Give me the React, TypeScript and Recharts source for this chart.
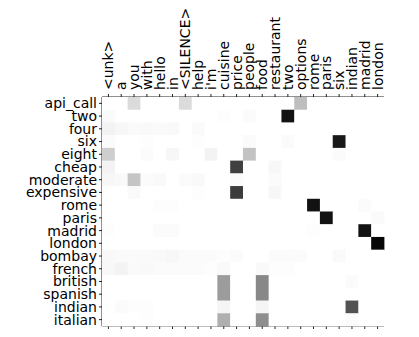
import { ScatterChart, Scatter, XAxis, YAxis } from "recharts";

const rows = [
  "api_call", "two", "four", "six", "eight", "cheap", "moderate", "expensive", "rome",
  "paris", "madrid", "london", "bombay", "french", "british", "spanish", "indian", "italian",
];

const cols = [
  "<unk>", "a", "you", "with", "hello", "in", "<SILENCE>", "help", "i'm", "cuisine", "price",
  "people", "food", "restaurant", "two", "options", "rome", "paris", "six", "indian", "madrid", "london",
];

// one row per memory entry, one value per column word
const weights: number[][] = [
  [0, 0, 0.24, 0, 0, 0, 0.24, 0, 0, 0, 0, 0, 0, 0, 0, 0.37, 0, 0, 0, 0, 0, 0],
  [0.04, 0, 0, 0, 0, 0, 0, 0, 0, 0.02, 0, 0.03, 0, 0, 0.94, 0, 0, 0, 0, 0, 0, 0],
  [0.1, 0.07, 0.04, 0.05, 0.04, 0.05, 0, 0.04, 0, 0, 0, 0, 0, 0, 0, 0, 0, 0, 0, 0, 0, 0],
  [0.03, 0, 0, 0.02, 0, 0, 0, 0.02, 0, 0, 0, 0.03, 0, 0, 0.03, 0, 0, 0, 0.92, 0, 0, 0],
  [0.3, 0, 0, 0.03, 0, 0.07, 0, 0, 0.1, 0, 0, 0.35, 0, 0, 0, 0, 0, 0, 0.03, 0, 0, 0],
  [0.1, 0, 0, 0, 0, 0, 0, 0, 0, 0, 0.8, 0, 0, 0.07, 0, 0, 0, 0, 0, 0, 0, 0],
  [0.07, 0.05, 0.34, 0.03, 0.05, 0, 0.03, 0.05, 0, 0, 0.03, 0, 0, 0.03, 0, 0, 0, 0, 0, 0, 0, 0],
  [0, 0, 0.04, 0, 0, 0, 0, 0.02, 0, 0, 0.81, 0, 0, 0.07, 0, 0, 0, 0, 0, 0, 0, 0],
  [0, 0, 0, 0, 0.02, 0.02, 0, 0, 0, 0, 0, 0, 0, 0, 0, 0, 0.94, 0, 0, 0, 0.03, 0],
  [0, 0, 0, 0, 0, 0, 0, 0, 0, 0, 0, 0, 0, 0, 0, 0, 0, 0.94, 0, 0, 0, 0.04],
  [0.02, 0, 0, 0, 0.03, 0.03, 0, 0, 0, 0, 0, 0, 0, 0, 0, 0, 0.02, 0, 0, 0, 0.94, 0],
  [0, 0, 0, 0, 0, 0, 0, 0, 0, 0, 0, 0, 0, 0, 0, 0, 0, 0, 0, 0, 0, 0.98],
  [0.06, 0.04, 0.04, 0.04, 0.05, 0.07, 0.03, 0.03, 0.03, 0.02, 0.03, 0, 0, 0.03, 0.03, 0.03, 0, 0, 0.04, 0, 0, 0],
  [0.06, 0.1, 0.04, 0.05, 0.03, 0.03, 0.03, 0.03, 0.02, 0.05, 0, 0, 0.05, 0.02, 0.02, 0, 0, 0, 0, 0, 0, 0],
  [0, 0, 0, 0, 0, 0, 0, 0, 0, 0.48, 0, 0, 0.55, 0, 0, 0, 0, 0, 0, 0.03, 0, 0],
  [0, 0, 0, 0, 0, 0, 0, 0, 0, 0.48, 0, 0, 0.55, 0, 0, 0, 0, 0, 0, 0, 0, 0],
  [0, 0.03, 0.02, 0.02, 0, 0, 0, 0, 0, 0.08, 0, 0, 0.08, 0, 0, 0, 0, 0, 0, 0.75, 0, 0],
  [0, 0, 0, 0.02, 0, 0, 0, 0, 0, 0.42, 0, 0, 0.53, 0, 0, 0, 0, 0, 0, 0.03, 0, 0],
];

// matplotlib "Greys"
const greys = [255, 240, 217, 189, 150, 115, 82, 37, 0];

const grey = (v: number) => {
  const t = Math.max(0, Math.min(1, v)) * (greys.length - 1);
  const i = Math.min(greys.length - 2, Math.floor(t));
  const g = Math.round(greys[i] + (greys[i + 1] - greys[i]) * (t - i));
  return `rgb(${g},${g},${g})`;
};

const W = 419;
const H = 337;
const TOP = 97;
const LEFT = 102;
const RIGHT = 35;
const BOTTOM = 11;
const cellW = (W - LEFT - RIGHT) / cols.length;
const cellH = (H - TOP - BOTTOM) / rows.length;

const cells = weights.flatMap((row, r) => row.map((v, c) => ({ c, r, v })));

const font = "DejaVu Sans, sans-serif";
const fontSize = 14;
const axisColor = "#222";

const TopTick = (props: any) => {
  const { x, y, payload } = props;
  const px = x;
  const py = y - 2;
  return (
    <text
      x={px}
      y={py}
      transform={`rotate(-90 ${px} ${py})`}
      textAnchor="start"
      dominantBaseline="central"
      fontSize={fontSize}
      fontFamily={font}
      fill="#000"
    >
      {cols[payload.value]}
    </text>
  );
};

const Cell = (props: any) => {
  const { cx, cy, payload } = props;
  return (
    <rect
      x={cx - cellW / 2}
      y={cy - cellH / 2}
      width={cellW + 0.4}
      height={cellH + 0.4}
      fill={grey(payload.v)}
    />
  );
};

const colTicks = cols.map((_, i) => i);
const rowTicks = rows.map((_, i) => i);

export default function App() {
  return (
    <div style={{ position: "absolute", left: 0, top: 0, background: "#fff" }}>
      <ScatterChart width={W} height={H} margin={{ top: 0, right: RIGHT, bottom: 0, left: 0 }}>
        <XAxis
          xAxisId="top"
          orientation="top"
          type="number"
          dataKey="c"
          domain={[-0.5, cols.length - 0.5]}
          ticks={colTicks}
          interval={0}
          height={TOP}
          tickSize={3}
          stroke={axisColor}
          tick={<TopTick />}
        />
        <XAxis
          xAxisId="bottom"
          orientation="bottom"
          type="number"
          dataKey="c"
          domain={[-0.5, cols.length - 0.5]}
          ticks={colTicks}
          interval={0}
          height={BOTTOM}
          tickSize={3}
          stroke={axisColor}
          tick={() => <g />}
        />
        <YAxis
          yAxisId="left"
          type="number"
          dataKey="r"
          reversed
          domain={[-0.5, rows.length - 0.5]}
          ticks={rowTicks}
          interval={0}
          width={LEFT}
          tickSize={3}
          stroke={axisColor}
          tickFormatter={(i: number) => rows[i]}
          tick={{ fontSize, fontFamily: font, fill: "#000" }}
        />
        <YAxis
          yAxisId="right"
          orientation="right"
          type="number"
          dataKey="r"
          domain={[-0.5, rows.length - 0.5]}
          width={0}
          tick={false}
          tickLine={false}
          stroke={axisColor}
        />
        <Scatter
          data={cells}
          xAxisId="top"
          yAxisId="left"
          shape={<Cell />}
          isAnimationActive={false}
        />
        <Scatter
          data={cells}
          xAxisId="bottom"
          yAxisId="right"
          shape={() => <g />}
          isAnimationActive={false}
        />
      </ScatterChart>
    </div>
  );
}
